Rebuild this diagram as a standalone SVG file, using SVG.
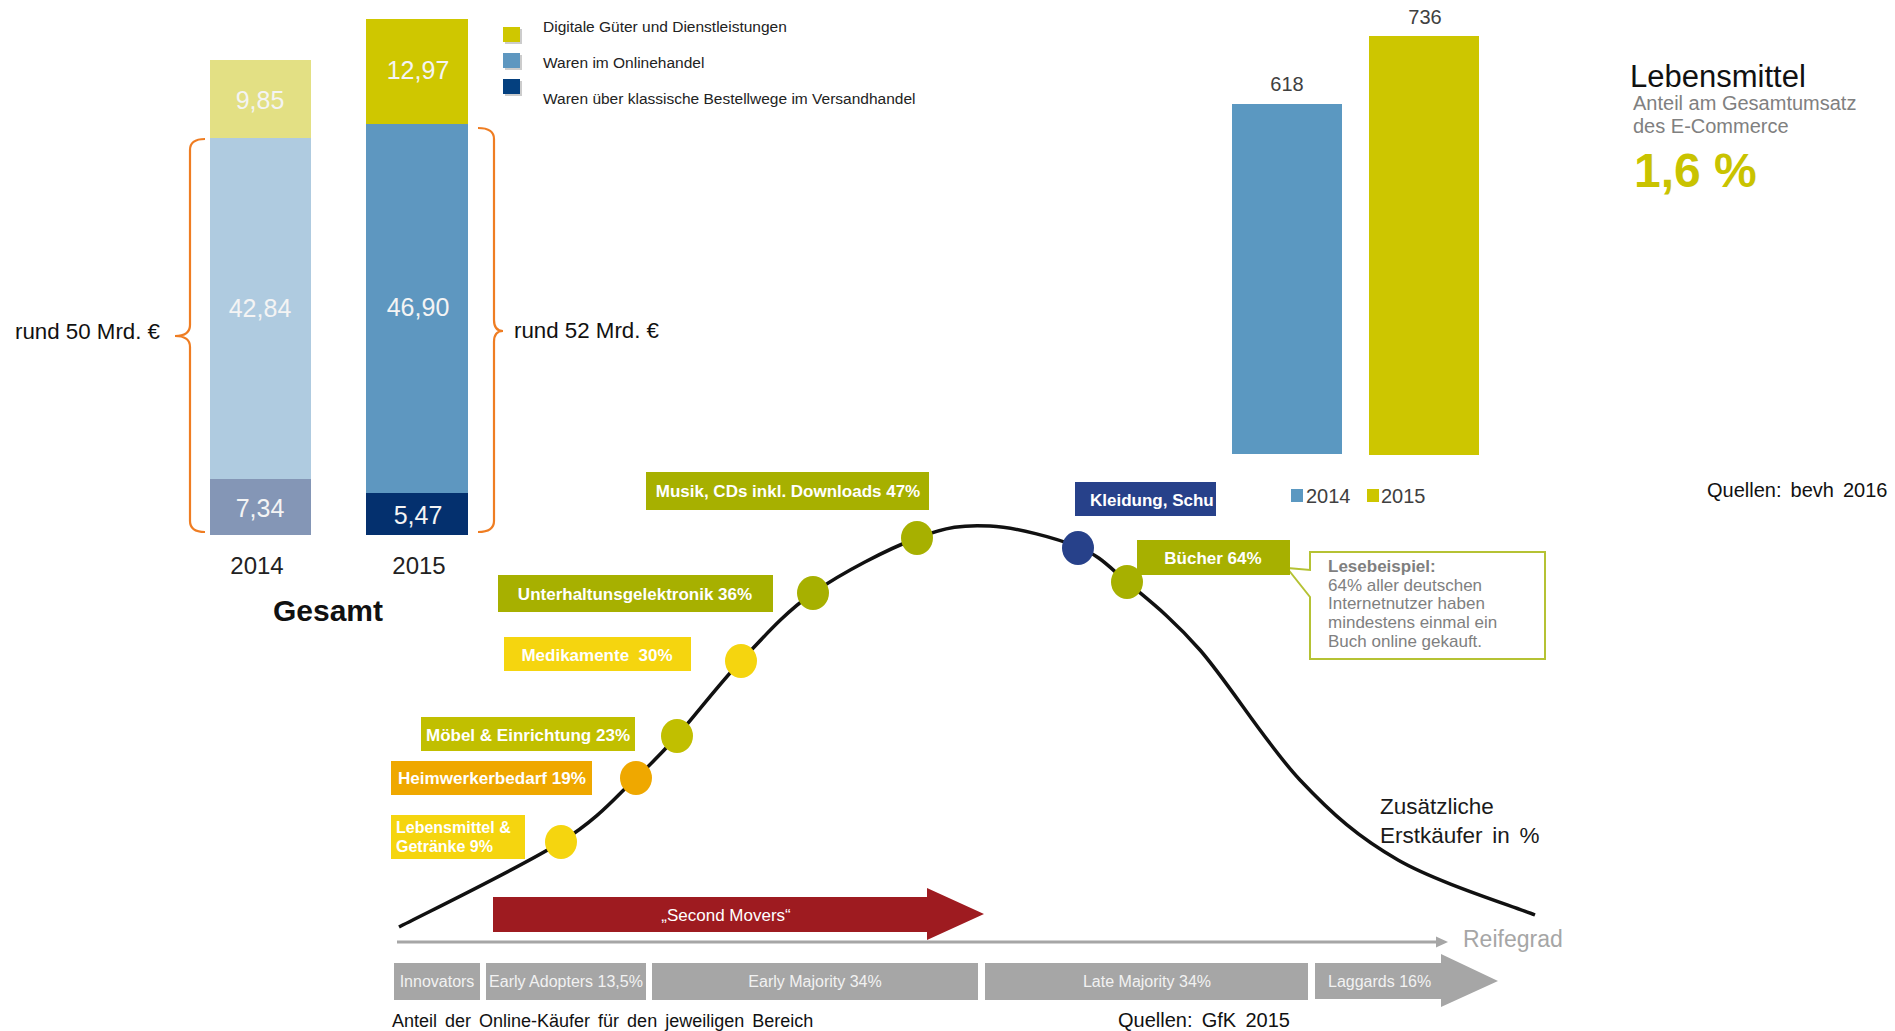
<svg xmlns="http://www.w3.org/2000/svg" width="1895" height="1031" viewBox="0 0 1895 1031">
<style>
text{font-family:"Liberation Sans",Arial,sans-serif}
.bv{fill:#f4f4f4;font-size:25px;text-anchor:middle}
.yr{fill:#222;font-size:24px;text-anchor:middle}
.lg{fill:#222;font-size:15.5px}
.brace{fill:none;stroke:#ef7d22;stroke-width:2.2}
.lbl{fill:#fff;font-size:17px;font-weight:bold;text-anchor:middle}
.dot{stroke:none}
.ph{fill:#a6a6a6}
.pht{fill:#f2f2f2;font-size:16px;text-anchor:middle}
.gray{fill:#808080}
</style>
<defs>
<clipPath id="kclip"><rect x="1075" y="482" width="141" height="34"/></clipPath>
</defs>
<rect width="1895" height="1031" fill="#fff"/>

<g id="left-chart">
  <g id="bar-2014">
    <rect x="210" y="60" width="101" height="78" fill="#e3e084"/>
    <rect x="210" y="138" width="101" height="341" fill="#afcbe0"/>
    <rect x="210" y="479" width="101" height="56" fill="#8496b6"/>
    <text class="bv" x="260" y="109">9,85</text>
    <text class="bv" x="260" y="317">42,84</text>
    <text class="bv" x="260" y="517">7,34</text>
  </g>
  <g id="bar-2015">
    <rect x="366" y="19" width="102" height="105" fill="#cfc700"/>
    <rect x="366" y="124" width="102" height="369" fill="#5e97c0"/>
    <rect x="366" y="493" width="102" height="42" fill="#04306e"/>
    <text class="bv" x="418" y="79">12,97</text>
    <text class="bv" x="418" y="316">46,90</text>
    <text class="bv" x="418" y="524">5,47</text>
  </g>
  <text class="yr" x="257" y="574">2014</text>
  <text class="yr" x="419" y="574">2015</text>
  <text x="328" y="621" style="font-size:30px;font-weight:bold;fill:#111;text-anchor:middle">Gesamt</text>
  <g id="brace-2014">
    <path class="brace" d="M205,139 Q190,139 190,150 V325 Q190,336 175,336 Q190,336 190,347 V521 Q190,532 205,532"/>
    <text x="15" y="339" style="font-size:22.3px;fill:#111">rund 50 Mrd. €</text>
  </g>
  <g id="brace-2015">
    <path class="brace" d="M478,128 Q494,128 494,139 V320 Q494,331 503,331 Q494,331 494,342 V521 Q494,532 478,532"/>
    <text x="514" y="338" style="font-size:22.3px;fill:#111">rund 52 Mrd. €</text>
  </g>
  <g id="legend-left">
    <rect x="505" y="29" width="17" height="15" fill="#999" opacity="0.5"/>
    <rect x="503" y="27" width="17" height="15" fill="#cfc700"/>
    <rect x="505" y="55" width="17" height="15" fill="#999" opacity="0.5"/>
    <rect x="503" y="53" width="17" height="15" fill="#5e97c0"/>
    <rect x="505" y="81" width="17" height="15" fill="#999" opacity="0.5"/>
    <rect x="503" y="79" width="17" height="15" fill="#04407f"/>
    <text class="lg" x="543" y="32">Digitale Güter und Dienstleistungen</text>
    <text class="lg" x="543" y="68">Waren im Onlinehandel</text>
    <text class="lg" x="543" y="104">Waren über klassische Bestellwege im Versandhandel</text>
  </g>
</g>

<g id="right-chart">
  <rect x="1232" y="104" width="110" height="350" fill="#5b98c1"/>
  <rect x="1369" y="36" width="110" height="419" fill="#cdc600"/>
  <text x="1287" y="91" style="font-size:20px;fill:#404040;text-anchor:middle">618</text>
  <text x="1425" y="24" style="font-size:20px;fill:#404040;text-anchor:middle">736</text>
  <rect x="1291" y="489" width="12" height="13" fill="#5b98c1"/>
  <text x="1306" y="503" style="font-size:20px;fill:#404040">2014</text>
  <rect x="1367" y="489" width="12" height="13" fill="#cdc600"/>
  <text x="1381" y="503" style="font-size:20px;fill:#404040">2015</text>
  <text x="1630" y="87" style="font-size:31px;fill:#111">Lebensmittel</text>
  <text class="gray" x="1633" y="110" style="font-size:20px">Anteil am Gesamtumsatz</text>
  <text class="gray" x="1633" y="133" style="font-size:20px">des E-Commerce</text>
  <text x="1634" y="187" style="font-size:48px;font-weight:bold;fill:#c9c300">1,6 %</text>
  <text x="1707" y="497" style="font-size:20px;fill:#111;word-spacing:3.5px">Quellen: bevh 2016</text>
</g>

<g id="connectors">
  <path id="curve" d="M399,927 C426,913 521.5,866.8 561,842 C600.5,817.2 616.7,795.7 636,778 C655.3,760.3 659.5,755.5 677,736 C694.5,716.5 718.3,684.8 741,661 C763.7,637.2 783.7,613.5 813,593 C842.3,572.5 887.5,549.2 917,538 C946.5,526.8 963.2,524.5 990,526 C1016.8,527.5 1055.2,537.7 1078,547 C1100.8,556.3 1106.7,564.8 1127,582 C1147.3,599.2 1171.2,617 1200,650 C1228.8,683 1267,745 1300,780 C1333,815 1358.8,837.5 1398,860 C1437.2,882.5 1512.2,905.8 1535,915" fill="none" stroke="#111" stroke-width="3.5"/>
  <line x1="397" y1="942" x2="1440" y2="942" stroke="#a6a6a6" stroke-width="3"/>
  <polygon points="1436,936.5 1448,942 1436,947.5" fill="#a6a6a6"/>
  <path id="callout-pointer" d="M1310,552 H1545 V659 H1310 V597 L1287,568 L1310,570 Z" fill="#fff" stroke="#b5c234" stroke-width="2"/>
</g>

<g id="node-musik">
  <rect x="646" y="472" width="283" height="38" fill="#a7b000"/>
  <text class="lbl" x="788" y="497">Musik, CDs inkl. Downloads 47%</text>
  <ellipse class="dot" cx="917" cy="538" rx="16" ry="17" fill="#a7b000"/>
</g>
<g id="node-unterhaltung">
  <rect x="498" y="575" width="275" height="37" fill="#a7b000"/>
  <text class="lbl" x="635" y="600">Unterhaltunsgelektronik 36%</text>
  <ellipse class="dot" cx="813" cy="593" rx="16" ry="17" fill="#a7b000"/>
</g>
<g id="node-medikamente">
  <rect x="504" y="637" width="187" height="34" fill="#f5d50f"/>
  <text class="lbl" x="597" y="661" xml:space="preserve">Medikamente  30%</text>
  <ellipse class="dot" cx="741" cy="661" rx="16" ry="17" fill="#f5d50f"/>
</g>
<g id="node-moebel">
  <rect x="421" y="717" width="214" height="34" fill="#c1bf00"/>
  <text class="lbl" x="528" y="741">Möbel &amp; Einrichtung 23%</text>
  <ellipse class="dot" cx="677" cy="736" rx="16" ry="17" fill="#c1bf00"/>
</g>
<g id="node-heimwerker">
  <rect x="391" y="761" width="201" height="34" fill="#efa800"/>
  <text class="lbl" x="492" y="784" textLength="188" lengthAdjust="spacingAndGlyphs">Heimwerkerbedarf 19%</text>
  <ellipse class="dot" cx="636" cy="778" rx="16" ry="17" fill="#efa800"/>
</g>
<g id="node-lebensmittel">
  <rect x="391" y="815" width="134" height="44" fill="#f5d50f"/>
  <text class="lbl" x="396" y="833" style="text-anchor:start;font-size:16px">Lebensmittel &amp;</text>
  <text class="lbl" x="396" y="852" style="text-anchor:start;font-size:16px">Getränke 9%</text>
  <ellipse class="dot" cx="561" cy="842" rx="16" ry="17" fill="#f5d50f"/>
</g>
<g id="node-kleidung">
  <rect x="1075" y="482" width="141" height="34" fill="#27418a"/>
  <text class="lbl" x="1090" y="506" style="text-anchor:start" clip-path="url(#kclip)">Kleidung, Schu</text>
  <ellipse class="dot" cx="1078" cy="548" rx="16" ry="17" fill="#27418a"/>
</g>
<g id="node-buecher">
  <rect x="1137" y="540" width="153" height="35" fill="#a7b000"/>
  <text class="lbl" x="1213" y="564">Bücher 64%</text>
  <ellipse class="dot" cx="1127" cy="582" rx="16" ry="17" fill="#a7b000"/>
</g>
<g id="node-lesebeispiel">
  <text x="1328" y="572" style="font-size:17px;font-weight:bold;fill:#7f7f7f">Lesebeispiel:</text>
  <text class="gray" x="1328" y="591" style="font-size:17px">64% aller deutschen</text>
  <text class="gray" x="1328" y="609" style="font-size:17px">Internetnutzer haben</text>
  <text class="gray" x="1328" y="628" style="font-size:17px">mindestens einmal ein</text>
  <text class="gray" x="1328" y="647" style="font-size:17px">Buch online gekauft.</text>
</g>

<g id="node-erstkaeufer">
  <text x="1380" y="814" style="font-size:22.5px;fill:#1a1a1a">Zusätzliche</text>
  <text x="1380" y="843" style="font-size:22.5px;fill:#1a1a1a;word-spacing:3.5px">Erstkäufer in %</text>
</g>

<g id="node-second-movers">
  <polygon points="493,897 927,897 927,888 984,914 927,940 927,932 493,932" fill="#9e1b20"/>
  <text x="726" y="921" style="font-size:17px;fill:#fff;text-anchor:middle">„Second Movers“</text>
</g>

<g id="node-reifegrad">
  <text x="1463" y="947" style="font-size:23px;fill:#a6a6a6">Reifegrad</text>
</g>

<g id="phases">
  <rect class="ph" x="394" y="963" width="86" height="37"/>
  <text class="pht" x="437" y="987">Innovators</text>
  <rect class="ph" x="486" y="963" width="160" height="37"/>
  <text class="pht" x="566" y="987">Early Adopters 13,5%</text>
  <rect class="ph" x="652" y="963" width="326" height="37"/>
  <text class="pht" x="815" y="987">Early Majority 34%</text>
  <rect class="ph" x="985" y="963" width="323" height="37"/>
  <text class="pht" x="1147" y="987">Late Majority 34%</text>
  <polygon class="ph" points="1315,963 1441,963 1441,954 1498,981 1441,1007 1441,999 1315,999"/>
  <text class="pht" x="1328" y="987" style="text-anchor:start">Laggards 16%</text>
</g>

<g id="footer">
  <text x="392" y="1027" style="font-size:18px;fill:#111;word-spacing:3px">Anteil der Online-Käufer für den jeweiligen Bereich</text>
  <text x="1118" y="1027" style="font-size:20px;fill:#111;word-spacing:3.7px">Quellen: GfK 2015</text>
</g>
</svg>
